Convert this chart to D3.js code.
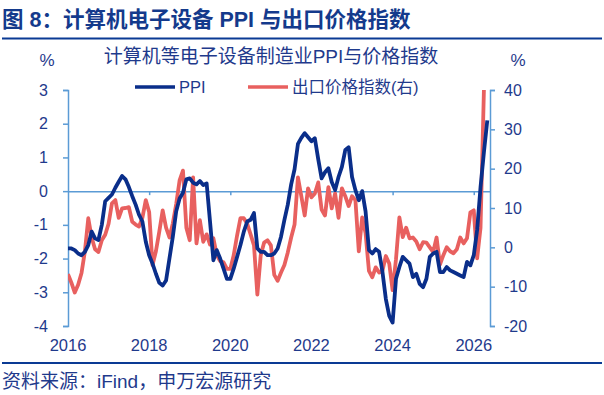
<!DOCTYPE html>
<html lang="zh">
<head>
<meta charset="UTF-8">
<title>计算机电子设备 PPI 与出口价格指数</title>
<script src="https://d3js.org/d3.v7.min.js"></script>
<style>
  body { margin: 0; background: #fff; }
  svg text { font-family: "Liberation Sans", "Noto Sans CJK SC", sans-serif; }
</style>
</head>
<body>
<svg width="604" height="395"></svg>
<script>
// monthly, 2016-01 .. 2026-05
var startYear = 2016;
var yearLabels = ["2016", "2018", "2020", "2022", "2024", "2026"];
var leftTicks = [3, 2, 1, 0, -1, -2, -3, -4];
var rightTicks = [40, 30, 20, 10, 0, -10, -20];

// 计算机等电子设备制造业PPI (%)
var ppi = [
  -1.7, -1.7, -1.75, -1.85, -1.9, -1.8, -1.6, -1.2, -1.4, -1.45, -1.0, -0.3,
  -0.2, -0.1, 0.1, 0.28, 0.45, 0.35, 0.12, -0.15, -0.4, -0.7, -0.9, -1.5,
  -1.9, -2.15, -2.45, -2.72, -2.8, -2.65, -2.0, -1.35, -0.6, -0.22, -0.05, 0.35,
  0.38, 0.25, 0.2, 0.3, 0.18, 0.23, -0.9, -2.05, -1.75, -2.0, -2.3, -2.6,
  -2.6, -2.3, -1.95, -1.6, -1.2, -0.9, -0.85, -0.65, -1.7, -1.8, -1.8, -1.9,
  -1.9, -1.85, -1.7, -1.35, -0.85, -0.4, 0.2, 0.65, 1.4, 1.58, 1.72, 1.6,
  1.48, 1.57, 0.95, 0.38, 0.56, 0.68, 0.27, 0.03, 0.42, 0.72, 1.22, 1.3,
  0.42, 0.03, -0.27, 0.0, -0.6, -1.75, -1.85, -1.72, -1.8, -2.4, -3.2, -3.7,
  -3.9, -2.6, -2.25, -1.95, -2.05, -2.15, -2.55, -2.45, -2.75, -2.85, -2.6, -1.95,
  -1.85, -1.8, -2.4, -2.4, -2.25, -2.35, -2.4, -2.45, -2.5, -2.55, -2.1, -2.2,
  -1.9, -1.15, 0.12, 1.15, 2.1
];

// 出口价格指数 (右轴, %)
var exportPrice = [
  -6.8, -9, -11.5, -9.5, -6.5, -1, 7.4, 2.5, -0.5, -1.2, 1.8, 3.2,
  6, 11.2, 12, 7.5, 9.9, 10, 10.2, 6.5, 5.8, 5.3, 7.5, 12,
  9, -4.5, -1, 4, 9.4, 5, 2.5, 6.1, 11, 17, 19.5, 5,
  1.8, 17.8, 1, 6.9, 1.4, 3.3, 0.7, 2.3, -2, -3.5, -3.8, -5.5,
  -5.5, -2, 3, 7.4, 7.4, 6, 3.3, 0.5, -12, -2, 1.2, 1.8,
  0.5, -7, -8.5, -6.4, -4.5, -1.3, 2.5, 5.8, 17.8, 13, 8.1, 15,
  12.7, 13.7, 16.5, 9.6, 8.1, 15.3, 9.9, 13.7, 7.5, 15, 13, 10.5,
  13, 12, -1, 7.6, 3.6, -6, -7.6, -5.1, -6.4, -5.9, -2.2, -4.1,
  -10.9, -3, 7.6, 2.6, 5, 2.3, 2.5, 1.5, -0.5, 1.3, 1.2, 0,
  -1.2, 2.5, -4.4, -2, 0, -1, -1.5, -0.5, 2.5, 1, 2.3, 8.9,
  9.4, -2.8, 5, 40, 55
];

var navy = "#0a2e8a", red = "#e8605f", axisBlue = "#5b9bd5", textBlue = "#1f3a8c";

var svg = d3.select("svg");
var plot = {left: 68, right: 490, top: 90, bottom: 326};

var x = d3.scaleLinear()
    .domain([0, 124.8])
    .range([plot.left, plot.right]);
var yL = d3.scaleLinear().domain([-4, 3]).range([plot.bottom, plot.top]);
var yR = d3.scaleLinear().domain([-20, 40]).range([plot.bottom, plot.top]);

// plain hyphen, no decimals
var fmt = function(d) { return String(d); };

// title
svg.append("text")
    .attr("x", 2).attr("y", 27)
    .attr("font-size", 21.5).attr("font-weight", "bold")
    .attr("fill", "#143a8c")
    .text("图 8：计算机电子设备 PPI 与出口价格指数");
svg.append("line")
    .attr("x1", 2).attr("x2", 602).attr("y1", 38.5).attr("y2", 38.5)
    .attr("stroke", "#0a3a94").attr("stroke-width", 2);

svg.append("text")
    .attr("x", 271).attr("y", 63).attr("text-anchor", "middle")
    .attr("font-size", 19).attr("fill", textBlue)
    .text("计算机等电子设备制造业PPI与价格指数");
svg.append("text").attr("x", 47).attr("y", 66).attr("text-anchor", "middle")
    .attr("font-size", 17).attr("fill", textBlue).text("%");
svg.append("text").attr("x", 518).attr("y", 66).attr("text-anchor", "middle")
    .attr("font-size", 17).attr("fill", textBlue).text("%");

// legend
var legend = [
  {label: "PPI", color: navy, x: 135},
  {label: "出口价格指数(右)", color: red, x: 248}
];
legend.forEach(function(d) {
  svg.append("line")
      .attr("x1", d.x).attr("x2", d.x + 40).attr("y1", 87).attr("y2", 87)
      .attr("stroke", d.color).attr("stroke-width", 3.5);
  svg.append("text")
      .attr("x", d.x + 44).attr("y", 93)
      .attr("font-size", 16.5).attr("fill", textBlue)
      .text(d.label);
});

// axes
var leftAxis = svg.append("g")
    .attr("transform", "translate(" + plot.left + ",0)")
    .call(d3.axisLeft(yL).tickValues(leftTicks).tickFormat(fmt).tickSize(5).tickPadding(15));
var rightAxis = svg.append("g")
    .attr("transform", "translate(" + plot.right + ",0)")
    .call(d3.axisRight(yR).tickValues(rightTicks).tickFormat(fmt).tickSize(5).tickPadding(9));

// zero line with year ticks
var zeroAxis = svg.append("g")
    .attr("transform", "translate(0," + yL(0) + ")")
    .call(d3.axisBottom(x)
        .tickValues(d3.range(1, yearLabels.length).map(function(k) { return k * 24; }))
        .tickSize(4).tickSizeOuter(0).tickFormat(""));

[leftAxis, rightAxis, zeroAxis].forEach(function(g) {
  g.selectAll("path, line").attr("stroke", axisBlue).attr("stroke-width", 1.5);
  g.selectAll("text").attr("fill", textBlue).attr("font-size", 16)
      .attr("font-family", "Liberation Sans, sans-serif");
});

// year labels
svg.append("g").selectAll("text")
    .data(yearLabels)
  .enter().append("text")
    .attr("x", function(d) { return x((+d - startYear) * 12); })
    .attr("y", 351)
    .attr("text-anchor", "middle")
    .attr("font-size", 16.5).attr("fill", textBlue)
    .text(function(d) { return d; });

// lines
svg.append("clipPath").attr("id", "clip")
  .append("rect")
    .attr("x", plot.left).attr("y", plot.top)
    .attr("width", plot.right - plot.left).attr("height", plot.bottom - plot.top);

var lineR = d3.line()
    .x(function(d, i) { return x(i); })
    .y(function(d) { return yR(d); });
var lineL = d3.line()
    .x(function(d, i) { return x(i); })
    .y(function(d) { return yL(d); });

svg.append("path")
    .datum(exportPrice)
    .attr("clip-path", "url(#clip)")
    .attr("fill", "none").attr("stroke", red)
    .attr("stroke-width", 3.8).attr("stroke-linejoin", "round")
    .attr("d", lineR);

svg.append("path")
    .datum(ppi)
    .attr("fill", "none").attr("stroke", navy)
    .attr("stroke-width", 3.8).attr("stroke-linejoin", "round")
    .attr("d", lineL);

// footer
svg.append("line")
    .attr("x1", 2).attr("x2", 602).attr("y1", 363).attr("y2", 363)
    .attr("stroke", "#0a3a94").attr("stroke-width", 2);
svg.append("text")
    .attr("x", 2).attr("y", 388)
    .attr("font-size", 19).attr("fill", textBlue)
    .text("资料来源：iFind，申万宏源研究");
</script>
</body>
</html>
